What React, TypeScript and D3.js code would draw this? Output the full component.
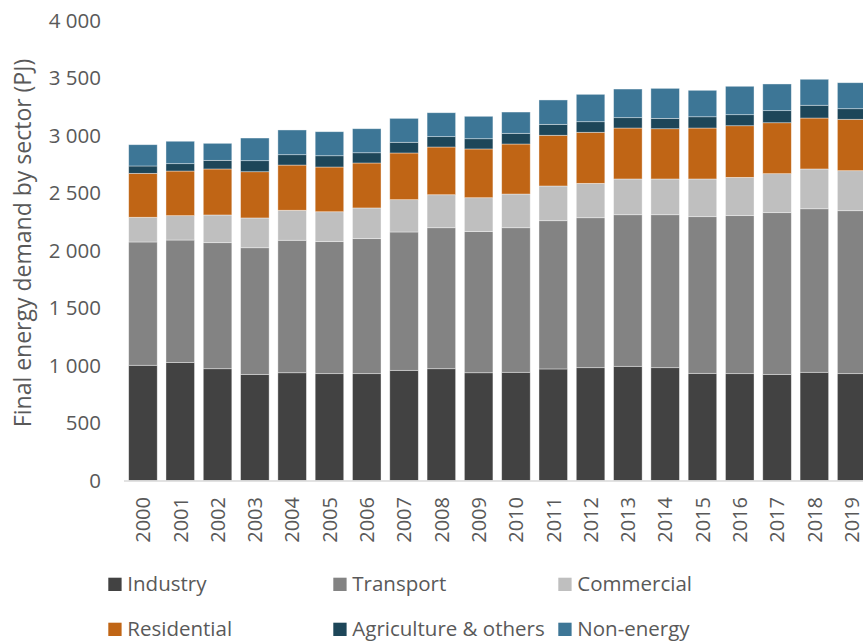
import React from "react";
import * as d3 from "d3";

const years = ["2000","2001","2002","2003","2004","2005","2006","2007","2008","2009","2010","2011","2012","2013","2014","2015","2016","2017","2018","2019"];
const industry = [1002,1025,972,923,937,929,929,958,972,937,941,970,981,993,981,932,929,923,941,929];
const transport = [1072,1066,1096,1101,1152,1148,1174,1203,1226,1227,1257,1289,1304,1318,1330,1362,1374,1406,1422,1417];
const commercial = [215,212,241,259,261,260,267,281,287,295,293,302,299,311,311,328,333,339,346,348];
const residential = [382,388,400,402,393,389,391,406,415,424,435,441,444,443,437,443,449,443,443,447];
const agriculture = [64,64,75,96,90,98,89,93,90,89,93,95,92,90,90,98,96,105,111,92];
const nonEnergy = [185,195,148,197,215,209,209,208,208,195,185,212,238,249,261,230,247,232,226,226];
const seriesNames = ["Industry","Transport","Commercial","Residential","Agriculture & others","Non-energy"];
const seriesColors = ["#424242","#838383","#bfbfbf","#c06515","#1d4659","#3d7696"];
const yTicks = [0,500,1000,1500,2000,2500,3000,3500,4000];
const yTitle = "Final energy demand by sector (PJ)";

const W = 863, H = 641;
const FONT = "'Open Sans', sans-serif";
const TXT = "#595959";

export default function App() {
  const seriesData = [industry, transport, commercial, residential, agriculture, nonEnergy];
  const table = years.map((y, i) => {
    const row: any = { year: y };
    seriesNames.forEach((n, k) => (row[n] = seriesData[k][i]));
    return row;
  });
  const stacked = d3.stack().keys(seriesNames)(table);
  const x = d3.scaleBand().domain(years).range([124.3, 870.3]).paddingInner(0.235).paddingOuter(0.1175);
  const y = d3.scaleLinear().domain([0, 4000]).range([480.5, 20.5]);
  const fmt = (v: number) => d3.format(",")(v).replace(/,/g, " ");

  const legendCols = [108.3, 333.3, 558.3];
  const legendRows = [591, 636];

  return (
    <svg width={W} height={H} style={{ position: "absolute", left: 0, top: 0, background: "#fff" }} fontFamily={FONT}>
      {stacked.map((s, k) => (
        <g key={k} fill={seriesColors[k]}>
          {s.map((d, i) => (
            <rect key={i} x={x(years[i])} y={y(d[1])} width={x.bandwidth()} height={y(d[0]) - y(d[1])}
              stroke="#ffffff" strokeOpacity={0.5} strokeWidth={0.75} />
          ))}
        </g>
      ))}
      <line x1={124} x2={W} y1={481} y2={481} stroke="#d9d9d9" strokeWidth={1.5} />
      {yTicks.map((t) => (
        <text key={t} x={101} y={y(t)} dy="0.36em" textAnchor="end" fontSize={20.5} fill={TXT}>{fmt(t)}</text>
      ))}
      <text transform="translate(31,243) rotate(-90)" textAnchor="middle" fontSize={23} fill={TXT}>{yTitle}</text>
      {years.map((yr) => (
        <text key={yr} transform={`translate(${(x(yr) as number) + x.bandwidth() / 2 + 7.3},497) rotate(-90)`}
          textAnchor="end" fontSize={20} fill={TXT}>{yr}</text>
      ))}
      {seriesNames.map((n, k) => {
        const cx = legendCols[k % 3];
        const by = legendRows[Math.floor(k / 3)];
        return (
          <g key={n}>
            <rect x={cx} y={by - 13.3} width={13.3} height={13.3} fill={seriesColors[k]} />
            <text x={cx + 19} y={by} fontSize={20.5} fill={TXT}>{n}</text>
          </g>
        );
      })}
    </svg>
  );
}
